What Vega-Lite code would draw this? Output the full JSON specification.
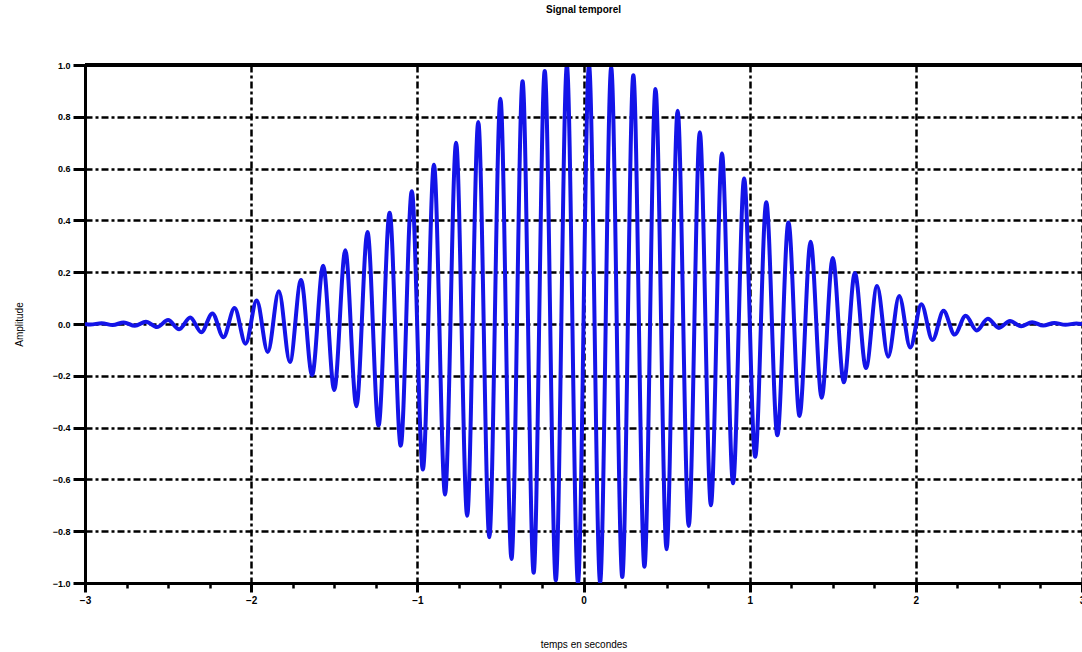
{
  "$schema": "https://vega.github.io/schema/vega-lite/v6.json",
  "autosize": "none",
  "width": 997,
  "height": 518,
  "padding": {"left": 85, "top": 65, "right": 0, "bottom": 69},
  "background": "white",
  "config": {"view": {"stroke": null}},
  "title": {"text": "Signal temporel", "anchor": "middle", "offset": 46, "fontSize": 10, "font": "Liberation Sans", "fontWeight": "bold", "color": "black"},
  "data": {"values": [
    {"t": -3.0, "a": 0},
    {"t": -2.9667, "a": -0.002},
    {"t": -2.9, "a": 0.003},
    {"t": -2.8333, "a": -0.004},
    {"t": -2.7667, "a": 0.006},
    {"t": -2.7, "a": -0.007},
    {"t": -2.6333, "a": 0.009},
    {"t": -2.5667, "a": -0.012},
    {"t": -2.5, "a": 0.015},
    {"t": -2.4333, "a": -0.020},
    {"t": -2.3667, "a": 0.025},
    {"t": -2.3, "a": -0.032},
    {"t": -2.2333, "a": 0.041},
    {"t": -2.1667, "a": -0.051},
    {"t": -2.1, "a": 0.062},
    {"t": -2.0333, "a": -0.076},
    {"t": -1.9667, "a": 0.091},
    {"t": -1.9, "a": -0.108},
    {"t": -1.8333, "a": 0.126},
    {"t": -1.7667, "a": -0.147},
    {"t": -1.7, "a": 0.170},
    {"t": -1.6333, "a": -0.197},
    {"t": -1.5667, "a": 0.225},
    {"t": -1.5, "a": -0.255},
    {"t": -1.4333, "a": 0.285},
    {"t": -1.3667, "a": -0.318},
    {"t": -1.3, "a": 0.355},
    {"t": -1.2333, "a": -0.392},
    {"t": -1.1667, "a": 0.430},
    {"t": -1.1, "a": -0.470},
    {"t": -1.0333, "a": 0.513},
    {"t": -0.9667, "a": -0.562},
    {"t": -0.9, "a": 0.615},
    {"t": -0.8333, "a": -0.658},
    {"t": -0.7667, "a": 0.700},
    {"t": -0.7, "a": -0.740},
    {"t": -0.6333, "a": 0.780},
    {"t": -0.5667, "a": -0.823},
    {"t": -0.5, "a": 0.870},
    {"t": -0.4333, "a": -0.907},
    {"t": -0.3667, "a": 0.937},
    {"t": -0.3, "a": -0.960},
    {"t": -0.2333, "a": 0.977},
    {"t": -0.1667, "a": -0.989},
    {"t": -0.1, "a": 0.997},
    {"t": -0.0333, "a": -0.999},
    {"t": 0.0333, "a": 0.999},
    {"t": 0.1, "a": -0.997},
    {"t": 0.1667, "a": 0.989},
    {"t": 0.2333, "a": -0.977},
    {"t": 0.3, "a": 0.960},
    {"t": 0.3667, "a": -0.937},
    {"t": 0.4333, "a": 0.907},
    {"t": 0.5, "a": -0.870},
    {"t": 0.5667, "a": 0.823},
    {"t": 0.6333, "a": -0.780},
    {"t": 0.7, "a": 0.740},
    {"t": 0.7667, "a": -0.700},
    {"t": 0.8333, "a": 0.658},
    {"t": 0.9, "a": -0.615},
    {"t": 0.9667, "a": 0.562},
    {"t": 1.0333, "a": -0.513},
    {"t": 1.1, "a": 0.470},
    {"t": 1.1667, "a": -0.430},
    {"t": 1.2333, "a": 0.392},
    {"t": 1.3, "a": -0.355},
    {"t": 1.3667, "a": 0.318},
    {"t": 1.4333, "a": -0.285},
    {"t": 1.5, "a": 0.255},
    {"t": 1.5667, "a": -0.225},
    {"t": 1.6333, "a": 0.197},
    {"t": 1.7, "a": -0.170},
    {"t": 1.7667, "a": 0.147},
    {"t": 1.8333, "a": -0.126},
    {"t": 1.9, "a": 0.108},
    {"t": 1.9667, "a": -0.091},
    {"t": 2.0333, "a": 0.076},
    {"t": 2.1, "a": -0.062},
    {"t": 2.1667, "a": 0.051},
    {"t": 2.2333, "a": -0.041},
    {"t": 2.3, "a": 0.032},
    {"t": 2.3667, "a": -0.025},
    {"t": 2.4333, "a": 0.020},
    {"t": 2.5, "a": -0.015},
    {"t": 2.5667, "a": 0.012},
    {"t": 2.6333, "a": -0.009},
    {"t": 2.7, "a": 0.007},
    {"t": 2.7667, "a": -0.006},
    {"t": 2.8333, "a": 0.004},
    {"t": 2.9, "a": -0.003},
    {"t": 2.9667, "a": 0.002},
    {"t": 3.0, "a": 0}
  ]},
  "layer": [
    {
      "mark": {"type": "line", "color": "#1414e8", "strokeWidth": 4, "clip": true, "interpolate": "monotone"},
      "encoding": {
        "x": {
          "field": "t", "type": "quantitative",
          "scale": {"domain": [-3, 3], "nice": false, "zero": false},
          "axis": {
            "title": "temps en secondes",
            "titleFont": "Liberation Sans", "titleFontSize": 10, "titleFontWeight": "normal", "titleColor": "black",
            "titleY": 56, "titleBaseline": "top",
            "values": [-3, -2.75, -2.5, -2.25, -2, -1.75, -1.5, -1.25, -1, -0.75, -0.5, -0.25, 0, 0.25, 0.5, 0.75, 1, 1.25, 1.5, 1.75, 2, 2.25, 2.5, 2.75, 3],
            "labelExpr": "round(datum.value) == datum.value ? format(datum.value, 'd') : ''",
            "labelFont": "Liberation Sans", "labelFontSize": 10, "labelFontWeight": "bold", "labelColor": "black", "labelPadding": 3, "labelFlush": false, "labelOverlap": false,
            "domainColor": "black", "domainWidth": 3,
            "tickColor": "black",
            "tickSize": {"condition": {"test": "round(datum.value) == datum.value", "value": 9}, "value": 5},
            "tickWidth": {"condition": {"test": "round(datum.value) == datum.value", "value": 3}, "value": 2.5},
            "grid": true, "gridColor": "black", "gridWidth": 2.5, "gridDash": [7, 3, 3, 3],
            "gridOpacity": {"condition": {"test": "round(datum.value) == datum.value", "value": 1}, "value": 0}
          }
        },
        "y": {
          "field": "a", "type": "quantitative",
          "scale": {"domain": [-1, 1], "nice": false, "zero": false},
          "axis": {
            "title": "Amplitude",
            "titleFont": "Liberation Sans", "titleFontSize": 10, "titleFontWeight": "normal", "titleColor": "black",
            "titleX": -66, "titleY": 259, "titleAngle": -90, "titleAlign": "center", "titleBaseline": "middle",
            "values": [-1, -0.9, -0.8, -0.7, -0.6, -0.5, -0.4, -0.3, -0.2, -0.1, 0, 0.1, 0.2, 0.3, 0.4, 0.5, 0.6, 0.7, 0.8, 0.9, 1],
            "labelExpr": "abs(round(datum.value*10)) % 2 == 0 ? format(datum.value, '.1f') : ''",
            "labelFont": "Liberation Sans", "labelFontSize": 9, "labelFontWeight": "bold", "labelColor": "black", "labelPadding": 3, "labelFlush": false, "labelOverlap": false,
            "domainColor": "black", "domainWidth": 3,
            "tickColor": "black",
            "tickSize": {"condition": {"test": "abs(round(datum.value*10)) % 2 == 0", "value": 12}, "value": 6},
            "tickWidth": {"condition": {"test": "abs(round(datum.value*10)) % 2 == 0", "value": 3}, "value": 2.5},
            "grid": true, "gridColor": "black", "gridWidth": 2.5, "gridDash": [7, 3, 3, 3],
            "gridOpacity": {"condition": {"test": "abs(round(datum.value*10)) % 2 == 0", "value": 1}, "value": 0}
          }
        }
      }
    },
    {
      "mark": {"type": "rule", "color": "black", "strokeWidth": 3},
      "encoding": {"y": {"datum": 1, "type": "quantitative"}}
    }
  ]
}
